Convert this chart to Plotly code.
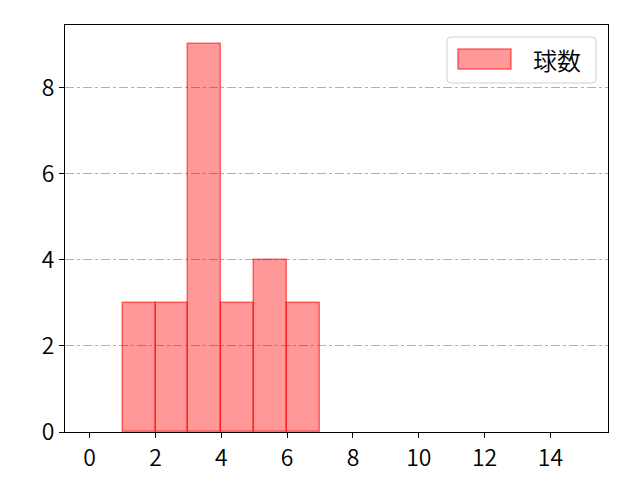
import plotly.graph_objects as go

# ヒストグラムのビン（左端）と度数
bin_left = [0, 1, 2, 3, 4, 5, 6, 7, 8, 9, 10, 11, 12, 13, 14]
counts = [0, 3, 3, 9, 3, 4, 3, 0, 0, 0, 0, 0, 0, 0, 0]
series_name = "球数"
x_ticks = [0, 2, 4, 6, 8, 10, 12, 14]
y_ticks = [0, 2, 4, 6, 8]

# 度数0のビンは描かない
centers = [b + 0.5 for b, c in zip(bin_left, counts) if c > 0]
heights = [c for c in counts if c > 0]

fill = "rgba(255,0,0,0.4)"
edge = "rgba(255,0,0,0.55)"

fig = go.Figure()
fig.add_trace(go.Bar(
    x=centers, y=heights, width=1, name=series_name,
    marker=dict(color=fill, line=dict(color=edge, width=1.5)),
    showlegend=False,
))

axis_common = dict(
    showline=True, linecolor="black", linewidth=1, mirror=True,
    ticks="outside", ticklen=5, tickcolor="black", automargin=False,
    tickfont=dict(size=23, color="black", weight=350), zeroline=False,
)

W, H = 640, 480
L, R, T, B = 65, 32, 25, 48
pw, ph = W - L - R, H - T - B


def px(x):
    return (x - L) / pw


def py(y):
    return 1 - (y - T) / ph


fig.update_layout(
    width=W, height=H,
    margin=dict(l=L, r=R, t=T, b=B, autoexpand=False),
    paper_bgcolor="white", plot_bgcolor="white",
    font=dict(family="Noto Sans CJK JP", color="black"),
    bargap=0,
    xaxis=dict(range=[-0.75, 15.75], tickvals=x_ticks, showgrid=False, **axis_common),
    yaxis=dict(range=[0, 9.45], tickvals=y_ticks, showgrid=True,
               gridcolor="#b0b0b0", griddash="dashdot", gridwidth=1, **axis_common),
    showlegend=False,
)

# 凡例（matplotlib風に手描き、角丸の枠）
x0, x1, y0, y1, r = px(447), px(596), py(83), py(37), 4
rx, ry = r / pw, r / ph
frame = (f"M {x0 + rx},{y0} L {x1 - rx},{y0} Q {x1},{y0} {x1},{y0 + ry} "
         f"L {x1},{y1 - ry} Q {x1},{y1} {x1 - rx},{y1} "
         f"L {x0 + rx},{y1} Q {x0},{y1} {x0},{y1 - ry} "
         f"L {x0},{y0 + ry} Q {x0},{y0} {x0 + rx},{y0} Z")
fig.add_shape(type="path", xref="paper", yref="paper", path=frame,
              line=dict(color="#d0d0d0", width=1), fillcolor="rgba(255,255,255,0.8)")
fig.add_shape(type="rect", xref="paper", yref="paper",
              x0=px(458), x1=px(511), y0=py(69), y1=py(49),
              line=dict(color=edge, width=1.5), fillcolor=fill)
fig.add_annotation(xref="paper", yref="paper", x=px(531), y=py(59),
                   xanchor="left", yanchor="middle", showarrow=False,
                   text=series_name, font=dict(size=24, color="black", weight=350))

fig.write_html("out.html", config={"displayModeBar": False},
               post_script="document.body.style.margin='0';")
